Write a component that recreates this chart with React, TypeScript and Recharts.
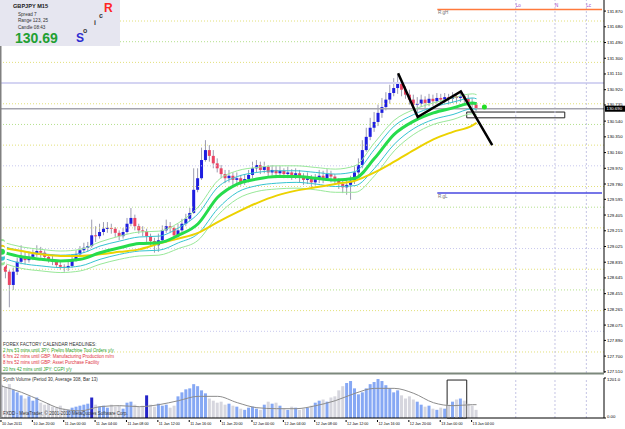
import React from "react";
import {
  ComposedChart,
  Bar,
  Line,
  XAxis,
  YAxis,
  ReferenceLine,
  ReferenceArea,
  ReferenceDot,
} from "recharts";

const FONT = "Liberation Sans, Arial, sans-serif";

// GBPJPY M15, read as one candle per 30 min starting 10 Jan 16:00
const firstOpen = 128.89;
const closes = [
  128.84, 128.72, 128.56, 128.72, 128.84, 128.91, 128.86, 128.9, 128.93, 128.97,
  128.95, 128.9, 128.87, 128.84, 128.8, 128.78, 128.77, 128.79, 128.86, 128.93,
  128.98, 129.01, 129.03, 129.16, 129.15, 129.2, 129.24, 129.25, 129.24, 129.19,
  129.15, 129.2, 129.3, 129.37, 129.27, 129.22, 129.21, 129.15, 129.09, 129.04,
  129.1, 129.22, 129.27, 129.25, 129.16, 129.22, 129.3, 129.36, 129.43, 129.71,
  129.85, 130.07, 130.19, 130.12, 130.03, 129.97, 129.9, 129.85, 129.88, 129.83,
  129.85, 129.8, 129.84, 129.89, 129.97, 130.01, 129.95, 129.99, 129.92, 129.95,
  129.91, 129.94, 129.9, 129.92, 129.89, 129.91, 129.87, 129.83, 129.85, 129.8,
  129.84, 129.88, 129.85, 129.9, 129.87, 129.82, 129.78, 129.74, 129.77, 129.82,
  129.92, 130.01, 130.19, 130.35, 130.46, 130.53, 130.64, 130.71, 130.8, 130.88,
  130.94, 131.01, 130.92, 130.86, 130.8, 130.74, 130.75, 130.8, 130.76, 130.81,
  130.78, 130.82, 130.8, 130.83, 130.81, 130.84, 130.82, 130.84, 130.81, 130.77, 130.74, 130.69,
];
const highs = [
  128.92, 128.86, 128.74, 128.77, 128.89, 129.04, 128.96, 128.96, 128.99, 129.04,
  129.02, 128.98, 128.93, 128.91, 128.86, 128.84, 128.81, 128.84, 128.91, 128.98,
  129.03, 129.07, 129.08, 129.35, 129.27, 129.3, 129.32, 129.32, 129.3, 129.26,
  129.22, 129.25, 129.37, 129.49, 129.41, 129.3, 129.27, 129.24, 129.18, 129.13,
  129.18, 129.28, 129.35, 129.32, 129.27, 129.3, 129.36, 129.42, 129.49, 129.97,
  129.97, 130.22, 130.31, 130.25, 130.19, 130.09, 130.01, 129.95, 129.95, 129.92,
  129.92, 129.89, 129.9, 129.95, 130.05, 130.07, 130.05, 130.05, 130.01, 130.01,
  130.0, 130.0, 129.97, 129.99, 129.96, 129.97, 129.95, 129.91, 129.92, 129.89,
  129.9, 129.95, 129.94, 129.96, 129.94, 129.9, 129.85, 129.83, 129.83, 129.88,
  130.0, 130.09, 130.31, 130.46, 130.58, 130.65, 130.74, 130.82, 130.89, 130.98,
  131.06, 131.1, 131.04, 130.96, 130.92, 130.86, 130.83, 130.86, 130.84, 130.87,
  130.86, 130.88, 130.87, 130.88, 130.87, 130.89, 130.88, 130.89, 130.87, 130.86, 130.82, 130.77,
];
const lows = [
  128.8, 128.64, 128.29, 128.5, 128.68, 128.81, 128.81, 128.83, 128.86, 128.9,
  128.89, 128.85, 128.83, 128.8, 128.77, 128.74, 128.72, 128.73, 128.77, 128.84,
  128.91, 128.95, 128.96, 129.01, 129.08, 129.12, 129.16, 129.19, 129.18, 129.14,
  129.1, 129.12, 129.18, 129.27, 129.22, 129.18, 129.15, 129.08, 129.03, 128.95,
  128.96, 129.08, 129.19, 129.2, 129.1, 129.13, 129.2, 129.27, 129.33, 129.42,
  129.68, 129.83, 130.05, 130.05, 129.97, 129.92, 129.85, 129.79, 129.8, 129.77,
  129.78, 129.76, 129.77, 129.8, 129.85, 129.92, 129.9, 129.91, 129.87, 129.88,
  129.85, 129.87, 129.85, 129.85, 129.83, 129.84, 129.8, 129.77, 129.78, 129.74,
  129.76, 129.79, 129.79, 129.82, 129.8, 129.77, 129.72, 129.67, 129.65, 129.59,
  129.78, 129.89, 129.97, 130.17, 130.31, 130.41, 130.48, 130.58, 130.67, 130.75,
  130.84, 130.87, 130.84, 130.81, 130.74, 130.67, 130.64, 130.71, 130.7, 130.72,
  130.72, 130.75, 130.74, 130.75, 130.74, 130.76, 130.75, 130.77, 130.75, 130.72, 130.67, 130.65,
];
const volumes = [
  1000, 920, 1020, 850, 770, 680, 585, 650, 520, 615,
  460, 400, 430, 340, 310, 370, 280, 245, 310, 340,
  370, 400, 430, 615, 400, 340, 370, 310, 400, 340,
  370, 280, 460, 490, 400, 340, 370, 680, 400, 340,
  430, 370, 400, 310, 370, 650, 770, 860, 890, 1016,
  955, 830, 740, 585, 520, 460, 490, 400, 430, 370,
  340, 280, 245, 310, 340, 280, 245, 400, 490, 430,
  460, 370, 280, 245, 340, 310, 245, 280, 310, 370,
  460, 520, 555, 490, 615, 650, 830, 955, 1050, 1110,
  890, 710, 770, 890, 1016, 1080, 1170, 1110, 985, 890,
  770, 830, 680, 585, 650, 555, 490, 400, 340, 370,
  280, 245, 310, 280, 400, 490, 555, 585, 520, 430, 370, 245,
];
const volumeSpikes = [23, 37];

// indicator lines sampled every 5 candles
const maSlots = [0, 5, 10, 15, 20, 25, 30, 35, 40, 45, 50, 55, 60, 65, 70, 75, 80, 85, 90, 95, 100, 105, 110, 115, 120, 121];
const dragonMid = [128.96, 128.9, 128.87, 128.85, 128.87, 128.95, 129.01, 129.06, 129.07, 129.16, 129.3, 129.62, 129.78, 129.84, 129.87, 129.87, 129.85, 129.83, 129.85, 130.09, 130.38, 130.54, 130.64, 130.7, 130.76, 130.75];
const dragonHigh = [129.03, 128.97, 128.94, 128.92, 128.94, 129.03, 129.09, 129.14, 129.15, 129.25, 129.42, 129.74, 129.87, 129.92, 129.94, 129.94, 129.92, 129.9, 129.93, 130.2, 130.48, 130.62, 130.71, 130.77, 130.82, 130.81];
const dragonLow = [128.89, 128.82, 128.79, 128.77, 128.79, 128.87, 128.93, 128.97, 128.98, 129.07, 129.18, 129.48, 129.68, 129.76, 129.79, 129.8, 129.78, 129.75, 129.76, 129.97, 130.26, 130.45, 130.56, 130.62, 130.69, 130.68];
const bandHigh = [129.08, 129.02, 128.99, 128.97, 128.99, 129.08, 129.15, 129.2, 129.21, 129.31, 129.5, 129.82, 129.94, 129.98, 130.0, 130.0, 129.98, 129.96, 130.0, 130.28, 130.55, 130.68, 130.76, 130.82, 130.87, 130.86];
const bandLow = [128.83, 128.76, 128.73, 128.71, 128.73, 128.81, 128.87, 128.91, 128.92, 129.0, 129.1, 129.4, 129.6, 129.69, 129.72, 129.73, 129.71, 129.68, 129.68, 129.88, 130.18, 130.38, 130.5, 130.56, 130.63, 130.62];
const ema89 = [129.01, 128.97, 128.93, 128.91, 128.91, 128.93, 128.96, 128.99, 129.06, 129.12, 129.19, 129.32, 129.44, 129.55, 129.64, 129.7, 129.74, 129.78, 129.82, 129.92, 130.05, 130.19, 130.32, 130.41, 130.49, 130.52];
const volumeAvg = [955, 770, 520, 280, 215, 340, 370, 340, 400, 520, 650, 650, 460, 310, 280, 280, 370, 520, 740, 890, 890, 740, 460, 370, 400, 400];

const zigzagSlots = [101, 106, 117, 125];
const zigzagPrices = [131.12, 130.59, 130.9, 130.25];

const timeLabels = [
  "10 Jan 2011", "10 Jan 20:00", "11 Jan 00:00", "11 Jan 04:00", "11 Jan 08:00", "11 Jan 12:00",
  "11 Jan 16:00", "11 Jan 20:00", "12 Jan 00:00", "12 Jan 04:00", "12 Jan 08:00", "12 Jan 12:00",
  "12 Jan 16:00", "12 Jan 20:00", "13 Jan 00:00", "13 Jan 04:00",
];
const priceTicks = [
  131.87, 131.68, 131.49, 131.3, 131.11, 130.92, 130.735, 130.54, 130.35, 130.16, 129.97, 129.78,
  129.595, 129.405, 129.215, 129.025, 128.835, 128.645, 128.455, 128.265, 128.075, 127.89, 127.7, 127.51,
];
const roundLevels = [127.75, 128, 128.25, 128.5, 128.75, 129, 129.25, 129.5, 129.75, 130, 130.25, 130.5, 130.75, 131, 131.25, 131.5, 131.75];
const bid = 130.69;
const rangeHigh = 131.89;
const rangeLow = 129.67;
const rangeFrom = 111;
const sessionSlots = [131, 141, 149];
const sessionNames = ["Lo", "N", "Lc"];
const boxSlots = [119, 143];
const boxPrices = [130.58, 130.65];
const signalSlot = 123;
const signalPrice = 130.71;

const headlines = [
  "2 hrs 53 mins until JPY: Prelim Machine Tool Orders y/y",
  "6 hrs 22 mins until GBP: Manufacturing Production m/m",
  "8 hrs 52 mins until GBP: Asset Purchase Facility",
  "20 hrs 42 mins until JPY: CGPI y/y",
];
const highImpact = [false, true, true, false];

const SLOTS = 154;
const labelSlots = timeLabels.map((_, j) => j * 8);

const rows = Array.from({ length: SLOTS }, (_, i) => {
  const row: any = { i };
  if (i < closes.length) {
    const o = i === 0 ? firstOpen : closes[i - 1];
    row.o = o;
    row.c = closes[i];
    row.h = Math.max(highs[i], o, closes[i]);
    row.l = Math.min(lows[i], o, closes[i]);
    row.range = [row.l, row.h];
    row.vol = volumes[i];
    row.spike = volumeSpikes.includes(i);
  }
  const m = maSlots.indexOf(i);
  if (m >= 0) {
    row.mid = dragonMid[m];
    row.dh = dragonHigh[m];
    row.dl = dragonLow[m];
    row.bh = bandHigh[m];
    row.bl = bandLow[m];
    row.e89 = ema89[m];
    row.vma = volumeAvg[m];
  }
  const z = zigzagSlots.indexOf(i);
  if (z >= 0) row.zz = zigzagPrices[z];
  return row;
});

const Candle = (props: any) => {
  const { x, y, width, height, payload } = props;
  if (!payload || payload.h == null) return null;
  const top = Math.min(y, y + height);
  const hgt = Math.abs(height);
  const { o, c, h, l } = payload;
  const span = h - l || 0.0001;
  const py = (p: number) => top + ((h - p) / span) * hgt;
  const cx = x + width / 2;
  const up = c >= o;
  const b1 = py(Math.max(o, c));
  const b2 = py(Math.min(o, c));
  return (
    <g>
      <line x1={cx} x2={cx} y1={top} y2={top + hgt} stroke="#9c9cb0" strokeWidth={1} />
      <rect x={cx - 1.5} y={b1} width={3} height={Math.max(1, b2 - b1)} fill={up ? "#1e1ee0" : "#ea4464"} />
    </g>
  );
};

const VolumeBar = (props: any) => {
  const { x, y, width, height, payload } = props;
  if (!payload || payload.vol == null) return null;
  const fill = payload.spike ? "#2424c8" : payload.c >= payload.o ? "#86a8f4" : "#d6d6de";
  return <rect x={x} y={y} width={width} height={height} fill={fill} />;
};

const PriceTick = (props: any) => {
  const { x, y, payload } = props;
  return (
    <text x={x} y={y + 1.5} fontSize={4.3} fill="#000" fontFamily={FONT} textAnchor="start">
      {payload.value.toFixed(3)}
    </text>
  );
};

const VolTick = (props: any) => {
  const { x, y, payload } = props;
  return (
    <text x={x} y={payload.value === 0 ? y : y + 2.5} fontSize={4.3} fill="#000" fontFamily={FONT} textAnchor="start">
      {payload.value === 0 ? "0.00" : payload.value.toFixed(1)}
    </text>
  );
};

const TimeTick = (props: any) => {
  const { x, y, payload } = props;
  const k = labelSlots.indexOf(payload.value);
  if (k < 0) return null;
  return (
    <g>
      <line x1={x - 1} x2={x - 1} y1={y} y2={y + 2} stroke="#000" />
      <text x={x} y={y + 5} fontSize={3.7} fill="#000" fontFamily={FONT} textAnchor="start">
        {timeLabels[k]}
      </text>
    </g>
  );
};

const BidLabel = (props: any) => {
  const vb = props.viewBox || {};
  const x = (vb.x ?? 0) + (vb.width ?? 0);
  const y = vb.y ?? 0;
  return (
    <g>
      <rect x={x + 1} y={y - 3} width={20} height={6} fill="#000" />
      <text x={x + 2.5} y={y + 1.6} fontSize={4.3} fill="#fff" fontFamily={FONT}>
        {bid.toFixed(3)}
      </text>
    </g>
  );
};

const levelColor = (p: number) => {
  const f = Math.round((p % 1) * 100);
  if (f === 0) return "#c8c8ee";
  if (f === 50) return "#b4e08c";
  return "#e2e07a";
};

const App = () => {
  return (
    <div style={{ position: "fixed", left: 0, top: 0, width: 625, height: 429, background: "#fff", overflow: "hidden" }}>
      <div style={{ position: "absolute", left: 0, top: 0 }}>
        <ComposedChart width={625} height={373} data={rows} margin={{ top: 0, right: 0, bottom: 0, left: 0 }}>
          <XAxis dataKey="i" type="category" hide allowDuplicatedCategory={false} />
          <YAxis
            orientation="right"
            type="number"
            width={21}
            domain={[127.496, 132.004]}
            allowDataOverflow
            ticks={priceTicks}
            interval={0}
            tick={<PriceTick />}
            tickSize={2}
            tickMargin={1}
            axisLine={{ stroke: "#000" }}
            tickLine={{ stroke: "#000" }}
          />
          {roundLevels.map((p) =>
            p === 131 ? (
              <ReferenceLine key={p} y={p} stroke="#d4d4f2" strokeWidth={2} />
            ) : (
              <ReferenceLine key={p} y={p} stroke={levelColor(p)} strokeDasharray="1 2" />
            )
          )}
          {sessionSlots.map((s) => (
            <ReferenceLine key={s} x={s} stroke="#c4c4e4" strokeDasharray="2 2" />
          ))}
          <ReferenceLine
            segment={[{ x: rangeFrom, y: rangeHigh }, { x: SLOTS - 1, y: rangeHigh }]}
            stroke="#ff7a3c"
            strokeWidth={1.5}
          />
          <ReferenceLine
            segment={[{ x: rangeFrom, y: rangeLow }, { x: SLOTS - 1, y: rangeLow }]}
            stroke="#4848e0"
            strokeWidth={1.5}
          />
          <ReferenceLine y={bid} stroke="#a4a4ae" strokeWidth={1.5} label={<BidLabel />} />
          <Line dataKey="bh" stroke="#98e898" strokeWidth={1} dot={false} connectNulls type="monotone" isAnimationActive={false} />
          <Line dataKey="bl" stroke="#98e898" strokeWidth={1} dot={false} connectNulls type="monotone" isAnimationActive={false} />
          <Line dataKey="dh" stroke="#36c4d0" strokeWidth={1} dot={false} connectNulls type="monotone" isAnimationActive={false} />
          <Line dataKey="dl" stroke="#36c4d0" strokeWidth={1} dot={false} connectNulls type="monotone" isAnimationActive={false} />
          <Line dataKey="e89" stroke="#ecd200" strokeWidth={2} dot={false} connectNulls type="monotone" isAnimationActive={false} />
          <Line dataKey="mid" stroke="#26dc4c" strokeWidth={3} dot={false} connectNulls type="monotone" isAnimationActive={false} />
          <Bar dataKey="range" barSize={3} shape={<Candle />} isAnimationActive={false} />
          <ReferenceArea
            x1={boxSlots[0]}
            x2={boxSlots[1]}
            y1={boxPrices[0]}
            y2={boxPrices[1]}
            fill="#ffffff"
            fillOpacity={0}
            stroke="#222"
            strokeWidth={1}
          />
          <Line dataKey="zz" stroke="#000" strokeWidth={2.5} dot={false} connectNulls type="linear" isAnimationActive={false} />
          <ReferenceDot x={signalSlot} y={signalPrice} r={2.5} fill="#22dd22" stroke="none" />
        </ComposedChart>
      </div>
      <div style={{ position: "absolute", left: 0, top: 374 }}>
        <ComposedChart width={625} height={55} data={rows} margin={{ top: 4, right: 0, bottom: 0, left: 0 }}>
          <XAxis
            dataKey="i"
            type="category"
            allowDuplicatedCategory={false}
            ticks={labelSlots}
            interval={0}
            height={11}
            tick={<TimeTick />}
            tickLine={false}
            tickSize={0}
            axisLine={{ stroke: "#000" }}
          />
          <YAxis
            orientation="right"
            type="number"
            width={21}
            domain={[0, 1201]}
            allowDataOverflow
            ticks={[0, 1201]}
            interval={0}
            tick={<VolTick />}
            tickSize={2}
            tickMargin={1}
            axisLine={{ stroke: "#000" }}
            tickLine={{ stroke: "#000" }}
          />
          {sessionSlots.map((s) => (
            <ReferenceLine key={s} x={s} stroke="#c4c4e4" strokeDasharray="2 2" />
          ))}
          <Bar dataKey="vol" barSize={3} shape={<VolumeBar />} isAnimationActive={false} />
          <Line dataKey="vma" stroke="#8c8c8c" strokeWidth={1} dot={false} connectNulls type="monotone" isAnimationActive={false} />
          <ReferenceArea x1={114} x2={118} y1={0} y2={1140} fill="#fff" fillOpacity={0} stroke="#222" strokeWidth={1} ifOverflow="visible" />
        </ComposedChart>
      </div>
      <svg width={625} height={429} style={{ position: "absolute", left: 0, top: 0, pointerEvents: "none" }} fontFamily={FONT}>
        <rect x={0} y={0} width={1.5} height={418} fill="#808080" />
        <rect x={0} y={372.5} width={604} height={2} fill="#7c887c" />
        <rect x={0} y={0} width={120} height={46} fill="#e6e6f0" />
        <text x={13} y={7.5} fontSize={5.6} fontWeight="bold" fill="#202020">GBPJPY  M15</text>
        <text x={18} y={15.5} fontSize={4.6} fill="#303030">Spread  7</text>
        <text x={18} y={22} fontSize={4.6} fill="#303030">Range  123, 25</text>
        <text x={18} y={29} fontSize={4.6} fill="#303030">Candle  08:43</text>
        <text x={15} y={43} fontSize={14} fontWeight="bold" fill="#22a032">130.69</text>
        <text x={76} y={42} fontSize={12} fontWeight="bold" fill="#2c2cd0">S</text>
        <text x={83} y={33} fontSize={7} fontWeight="bold" fill="#383838">o</text>
        <text x={94} y={25} fontSize={7} fontWeight="bold" fill="#383838">i</text>
        <text x={99} y={18} fontSize={7} fontWeight="bold" fill="#383838">c</text>
        <text x={104} y={12} fontSize={12} fontWeight="bold" fill="#ff2424">R</text>
        {sessionNames.map((n, k) => (
          <text key={n} x={1.96 + sessionSlots[k] * 3.922} y={7} fontSize={4.5} fill="#a040c8">{n}</text>
        ))}
        <text x={438} y={14} fontSize={4.5} fill="#707070">R.gH</text>
        <text x={438} y={198} fontSize={4.5} fill="#707070">R.gL</text>
        <text x={3} y={345.5} fontSize={4.6} fill="#303030">FOREX FACTORY CALENDAR HEADLINES:</text>
        {headlines.map((h, k) => (
          <text key={h} x={3} y={352 + k * 6.2} fontSize={4.5} fill={highImpact[k] ? "#e0303c" : "#2ca02c"}>
            {h}
          </text>
        ))}
        <text x={3} y={381} fontSize={4.5} fill="#303030">Synth Volume (Period 30, Average 308, Bar 13)</text>
        <text x={3} y={415} fontSize={4.5} fill="#303030">FXDD - MetaTrader, © 2001-2010 MetaQuotes Software Corp.</text>
      </svg>
    </div>
  );
};

export default App;
